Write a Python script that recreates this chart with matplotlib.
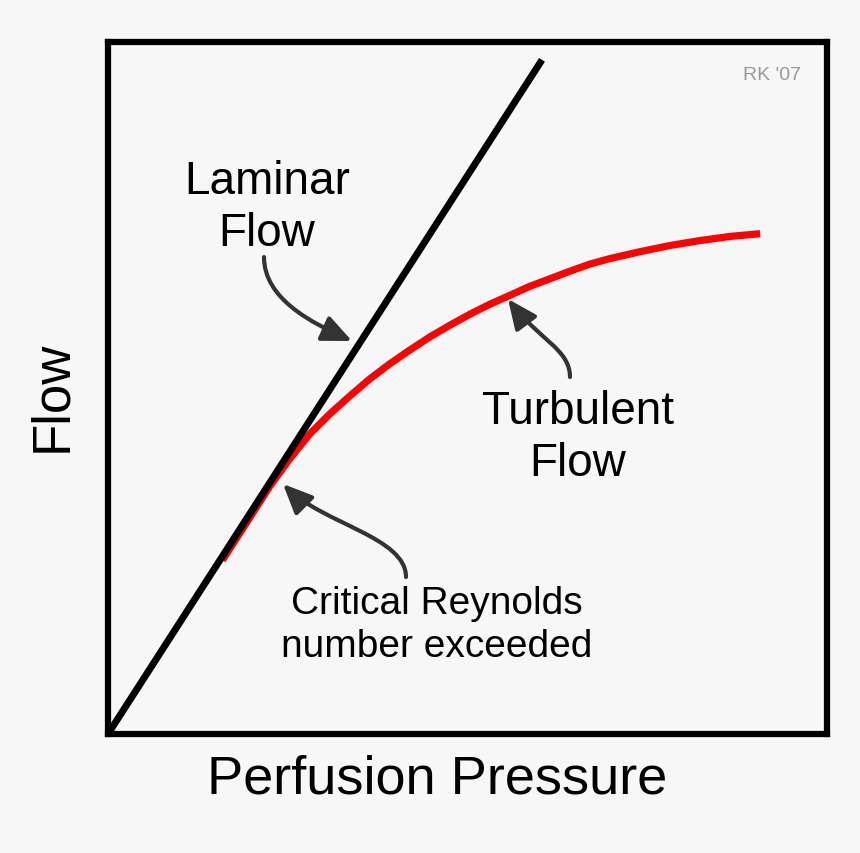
import matplotlib
matplotlib.use("Agg")
import matplotlib.pyplot as plt
from matplotlib.patches import FancyArrowPatch
from matplotlib.path import Path

plt.rcParams['font.family'] = ['Liberation Sans', 'DejaVu Sans']

# Data (axes fraction units, 0..1)
laminar_x = [0.0, 0.601]
laminar_y = [0.0, 0.970]
turbulent_x = [0.159, 0.198, 0.225, 0.253, 0.281, 0.309, 0.337, 0.364, 0.392, 0.420,
               0.448, 0.476, 0.504, 0.531, 0.559, 0.587, 0.615, 0.643, 0.670, 0.698,
               0.740, 0.782, 0.823, 0.865, 0.907]
turbulent_y = [0.251, 0.314, 0.358, 0.398, 0.434, 0.463, 0.489, 0.513, 0.535, 0.555,
               0.574, 0.591, 0.607, 0.621, 0.634, 0.647, 0.658, 0.669, 0.679, 0.687,
               0.697, 0.706, 0.713, 0.719, 0.723]

xlabel = "Perfusion Pressure"
ylabel = "Flow"
bg = "#f7f7f7"

W, H = 860, 854
fig = plt.figure(figsize=(W / 100, H / 100), dpi=100, facecolor=bg)
L, R, T, B = 108, 827, 43, 735
ax = fig.add_axes([L / W, 1 - B / H, (R - L) / W, (B - T) / H])
ax.set_facecolor(bg)
ax.set_xlim(0, 1)
ax.set_ylim(0, 1)
ax.set_xticks([])
ax.set_yticks([])
for s in ax.spines.values():
    s.set_linewidth(4.5)
    s.set_color("black")
    s.set_zorder(5)


def px(x, y):
    return ((x - L) / (R - L), (B - y) / (B - T))


ax.plot(turbulent_x, turbulent_y, color="#ff0000", lw=5.2, solid_capstyle="butt",
        solid_joinstyle="round", zorder=2)
ax.plot(laminar_x, laminar_y, color="black", lw=5, solid_capstyle="projecting", zorder=3)

ax.text(*px(267, 208), "Laminar\nFlow", fontsize=33, ha="center", va="center", linespacing=1.26)
ax.text(*px(578, 438), "Turbulent\nFlow", fontsize=33, ha="center", va="center", linespacing=1.24)
ax.text(*px(437, 626), "Critical Reynolds\nnumber exceeded", fontsize=28, ha="center", va="center", linespacing=1.25)

arrows = [
    [(264, 258), (264, 300), (312, 324), (352, 342)],
    [(570, 378), (570, 350), (538, 340), (508, 300)],
    [(406, 578), (406, 538), (323, 525), (283, 485)],
]
for pts in arrows:
    verts = [px(*p) for p in pts]
    path = Path(verts, [Path.MOVETO, Path.CURVE4, Path.CURVE4, Path.CURVE4])
    ar = FancyArrowPatch(path=path, arrowstyle="-|>,head_length=18,head_width=8",
                         mutation_scale=1, color="#333333", lw=3, transform=ax.transAxes, zorder=4)
    ax.add_patch(ar)

fig.text(437 / W, 1 - 780 / H, xlabel, fontsize=39, ha="center", va="center")
fig.text(52 / W, 1 - 396 / H, ylabel, fontsize=38, ha="center", va="center", rotation=90)
fig.text(772 / W, 1 - 76 / H, "RK '07", fontsize=14, color="#999999", ha="center", va="center")

fig.savefig("out.png", dpi=100, facecolor=bg)
